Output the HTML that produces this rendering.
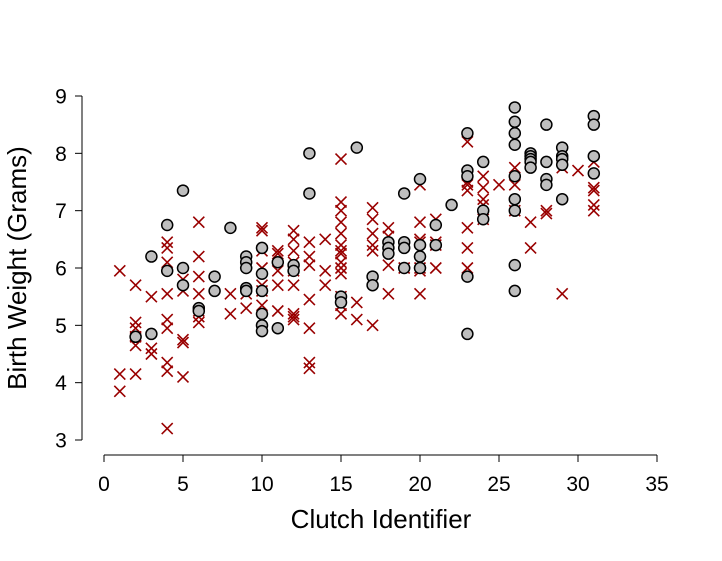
<!DOCTYPE html>
<html><head><meta charset="utf-8"><style>
body{margin:0;background:#fff}
svg text{font-family:"Liberation Sans",sans-serif}
</style></head><body>
<svg id="chart" width="722" height="556" xmlns="http://www.w3.org/2000/svg"></svg>
<script>
const xTicks=[0,5,10,15,20,25,30,35];
const yTicks=[3,4,5,6,7,8,9];
const circleX=[2,3,3,4,4,5,5,5,6,6,7,7,8,9,9,9,9,9,10,10,10,10,10,10,11,11,12,12,13,13,15,15,16,17,17,18,18,18,19,19,19,19,20,20,20,20,21,21,22,23,23,23,23,23,24,24,24,26,26,26,26,26,26,26,26,26,27,27,27,27,27,28,28,28,28,29,29,29,29,29,31,31,31,31];
const circleY=[4.8,6.2,4.85,6.75,5.95,7.35,6.0,5.7,5.3,5.25,5.85,5.6,6.7,6.2,6.1,6.0,5.65,5.6,6.35,5.9,5.6,5.2,5.0,4.9,6.1,4.95,6.05,5.95,8.0,7.3,5.5,5.4,8.1,5.85,5.7,6.45,6.35,6.25,7.3,6.45,6.35,6.0,7.55,6.4,6.2,6.0,6.75,6.4,7.1,8.35,7.7,7.6,5.85,4.85,7.85,7.0,6.85,8.8,8.55,8.35,8.15,7.6,7.2,7.0,6.05,5.6,8.0,7.95,7.9,7.85,7.75,8.5,7.85,7.55,7.45,8.1,7.95,7.9,7.8,7.2,8.65,8.5,7.95,7.65];
const crossX=[1,1,1,2,2,2,2,2,2,3,3,3,4,4,4,4,4,4,4,4,4,5,5,5,5,5,6,6,6,6,6,6,6,8,8,9,9,10,10,10,10,10,10,10,11,11,11,11,11,12,12,12,12,12,12,12,12,12,13,13,13,13,13,13,13,14,14,14,15,15,15,15,15,15,15,15,15,15,15,15,15,15,16,16,17,17,17,17,17,17,18,18,18,18,19,20,20,20,20,20,20,20,21,21,21,21,23,23,23,23,23,23,23,23,24,24,24,24,24,25,26,26,26,27,27,27,28,28,29,29,30,31,31,31,31,31];
const crossY=[5.95,4.15,3.85,5.7,5.05,4.95,4.8,4.65,4.15,5.5,4.6,4.5,6.45,6.35,6.1,5.55,5.1,4.95,4.35,4.2,3.2,5.8,5.6,4.75,4.7,4.1,6.8,6.2,5.85,5.55,5.25,5.15,5.05,5.55,5.2,5.55,5.3,6.7,6.65,6.3,6.0,5.7,5.6,5.35,6.3,6.25,5.95,5.7,5.25,6.65,6.5,6.3,6.1,5.95,5.7,5.2,5.15,5.1,6.45,6.2,6.05,5.45,4.95,4.35,4.25,6.5,5.95,5.7,7.9,7.15,7.0,6.8,6.6,6.4,6.3,6.25,6.1,6.0,5.9,5.5,5.35,5.2,5.4,5.1,7.05,6.85,6.6,6.4,6.3,5.0,6.7,6.55,6.05,5.55,6.0,7.45,6.8,6.5,6.45,6.0,5.95,5.55,6.85,6.45,6.4,6.0,8.2,7.65,7.5,7.45,7.35,6.7,6.35,6.0,7.6,7.4,7.2,7.1,6.85,7.45,7.75,7.45,7.0,7.9,6.8,6.35,7.0,6.95,7.75,5.55,7.7,7.85,7.4,7.35,7.1,7.0];

const svg=document.getElementById('chart');
const NS='http://www.w3.org/2000/svg';
const sx=v=>104+v*(657-104)/35;
const sy=v=>440-(v-3)*(440-96)/6;
function mk(tag,attrs,parent){const e=document.createElementNS(NS,tag);for(const k in attrs)e.setAttribute(k,attrs[k]);(parent||svg).appendChild(e);return e;}

const xa=mk('g',{});


mk('line',{x1:sx(0),x2:sx(35),y1:455,y2:455,stroke:'#000','stroke-width':1},xa);
xTicks.forEach(t=>{
  mk('line',{x1:sx(t),x2:sx(t),y1:455,y2:462,stroke:'#000','stroke-width':1},xa);
  const tx=mk('text',{x:sx(t),y:491,'text-anchor':'middle','font-size':21},xa);
  
  
  tx.textContent=t;
});
const ya=mk('g',{});


mk('line',{x1:82,x2:82,y1:sy(3),y2:sy(9),stroke:'#000','stroke-width':1},ya);
yTicks.forEach(t=>{
  mk('line',{x1:75,x2:82,y1:sy(t),y2:sy(t),stroke:'#000','stroke-width':1},ya);
  const tx=mk('text',{x:61,y:sy(t)+7.5,'text-anchor':'middle','font-size':21},ya);
  
  
  tx.textContent=t;
});
const xt=mk('text',{x:381,y:528,'text-anchor':'middle','font-size':26});


xt.textContent='Clutch Identifier';
const yt=mk('text',{x:0,y:0,'text-anchor':'middle','font-size':26,transform:'translate(26,268) rotate(-90)'});


yt.textContent='Birth Weight (Grams)';

const cg=mk('g',{});


crossX.forEach((x,i)=>{
  const cx=sx(x),cy=sy(crossY[i]),a=5.5;
  const p=mk('path',{d:`M${cx-a},${cy-a}L${cx+a},${cy+a}M${cx-a},${cy+a}L${cx+a},${cy-a}`,stroke:'#990000','stroke-width':1.6,fill:'none'},cg);
  
  
});
const og=mk('g',{});


circleX.forEach((x,i)=>{
  const c=mk('circle',{cx:sx(x),cy:sy(circleY[i]),r:5.5,fill:'#bebebe',stroke:'#000','stroke-width':1.5},og);
  
  
});
</script>
</body></html>
